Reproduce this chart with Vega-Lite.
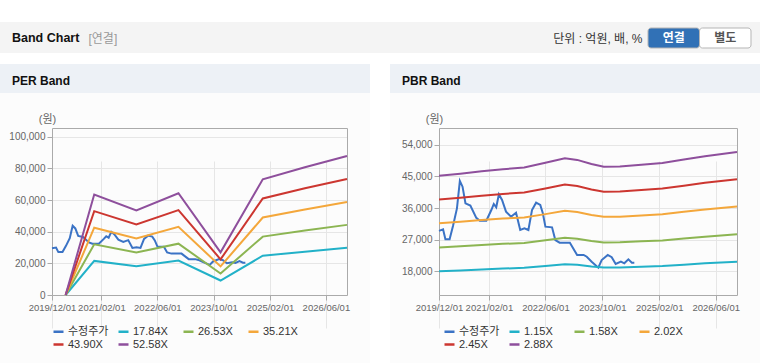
{
  "$schema": "https://vega.github.io/schema/vega-lite/v6.json",
  "autosize": {"type": "pad"},
  "padding": {"top": 22, "left": 0, "right": 0, "bottom": 1},
  "background": "#ffffff",
  "config": {
    "font": "Liberation Sans, Noto Sans CJK KR, sans-serif",
    "view": {"stroke": null},
    "axis": {"labelFont": "Liberation Sans, Noto Sans CJK KR, sans-serif", "titleFont": "Liberation Sans, Noto Sans CJK KR, sans-serif"},
    "legend": {"labelFont": "Liberation Sans, Noto Sans CJK KR, sans-serif"},
    "title": {"font": "Liberation Sans, Noto Sans CJK KR, sans-serif"}
  },
  "datasets": {
    "price": [
      {"d": "2019/12/01", "s": "수정주가", "v": 29500},
      {"d": "2020/01/05", "s": "수정주가", "v": 29950},
      {"d": "2020/01/25", "s": "수정주가", "v": 27100},
      {"d": "2020/03/01", "s": "수정주가", "v": 27100},
      {"d": "2020/03/30", "s": "수정주가", "v": 30900},
      {"d": "2020/05/03", "s": "수정주가", "v": 35900},
      {"d": "2020/05/28", "s": "수정주가", "v": 43700},
      {"d": "2020/06/20", "s": "수정주가", "v": 42060},
      {"d": "2020/07/15", "s": "수정주가", "v": 37340},
      {"d": "2020/08/26", "s": "수정주가", "v": 36700},
      {"d": "2020/10/16", "s": "수정주가", "v": 33200},
      {"d": "2020/11/15", "s": "수정주가", "v": 32400},
      {"d": "2021/01/10", "s": "수정주가", "v": 32400},
      {"d": "2021/02/22", "s": "수정주가", "v": 35430},
      {"d": "2021/03/15", "s": "수정주가", "v": 37140},
      {"d": "2021/04/05", "s": "수정주가", "v": 36200},
      {"d": "2021/04/28", "s": "수정주가", "v": 39900},
      {"d": "2021/05/25", "s": "수정주가", "v": 38280},
      {"d": "2021/06/28", "s": "수정주가", "v": 34950},
      {"d": "2021/08/10", "s": "수정주가", "v": 33530},
      {"d": "2021/09/22", "s": "수정주가", "v": 34670},
      {"d": "2021/10/28", "s": "수정주가", "v": 29750},
      {"d": "2021/12/03", "s": "수정주가", "v": 30230},
      {"d": "2022/01/06", "s": "수정주가", "v": 29750},
      {"d": "2022/02/06", "s": "수정주가", "v": 35430},
      {"d": "2022/03/13", "s": "수정주가", "v": 37520},
      {"d": "2022/04/18", "s": "수정주가", "v": 36860},
      {"d": "2022/05/10", "s": "수정주가", "v": 34500},
      {"d": "2022/06/01", "s": "수정주가", "v": 30700},
      {"d": "2022/07/28", "s": "수정주가", "v": 30510},
      {"d": "2022/08/25", "s": "수정주가", "v": 26900},
      {"d": "2022/10/01", "s": "수정주가", "v": 26140},
      {"d": "2022/12/28", "s": "수정주가", "v": 26140},
      {"d": "2023/02/28", "s": "수정주가", "v": 22650},
      {"d": "2023/04/25", "s": "수정주가", "v": 22650},
      {"d": "2023/05/22", "s": "수정주가", "v": 22150},
      {"d": "2023/07/03", "s": "수정주가", "v": 20730},
      {"d": "2023/08/29", "s": "수정주가", "v": 19030},
      {"d": "2023/09/27", "s": "수정주가", "v": 21200},
      {"d": "2023/11/18", "s": "수정주가", "v": 22650},
      {"d": "2023/12/22", "s": "수정주가", "v": 22000},
      {"d": "2024/01/25", "s": "수정주가", "v": 20070},
      {"d": "2024/03/10", "s": "수정주가", "v": 20730},
      {"d": "2024/04/08", "s": "수정주가", "v": 20270},
      {"d": "2024/05/13", "s": "수정주가", "v": 21400},
      {"d": "2024/06/12", "s": "수정주가", "v": 20450},
      {"d": "2024/07/03", "s": "수정주가", "v": 20450}
    ],
    "per": [
      {"d": "2020/03/28", "s": "17.84X", "v": 0}, {"d": "2020/03/28", "s": "26.53X", "v": 0}, {"d": "2020/03/28", "s": "35.21X", "v": 0}, {"d": "2020/03/28", "s": "43.90X", "v": 0}, {"d": "2020/03/28", "s": "52.58X", "v": 0},
      {"d": "2020/12/01", "s": "17.84X", "v": 21533}, {"d": "2020/12/01", "s": "26.53X", "v": 32022}, {"d": "2020/12/01", "s": "35.21X", "v": 42498}, {"d": "2020/12/01", "s": "43.90X", "v": 52987}, {"d": "2020/12/01", "s": "52.58X", "v": 63464},
      {"d": "2021/12/01", "s": "17.84X", "v": 18108}, {"d": "2021/12/01", "s": "26.53X", "v": 26928}, {"d": "2021/12/01", "s": "35.21X", "v": 35738}, {"d": "2021/12/01", "s": "43.90X", "v": 44559}, {"d": "2021/12/01", "s": "52.58X", "v": 53369},
      {"d": "2022/12/01", "s": "17.84X", "v": 21800}, {"d": "2022/12/01", "s": "26.53X", "v": 32420}, {"d": "2022/12/01", "s": "35.21X", "v": 43027}, {"d": "2022/12/01", "s": "43.90X", "v": 53646}, {"d": "2022/12/01", "s": "52.58X", "v": 64253},
      {"d": "2023/12/01", "s": "17.84X", "v": 9152}, {"d": "2023/12/01", "s": "26.53X", "v": 13610}, {"d": "2023/12/01", "s": "35.21X", "v": 18063}, {"d": "2023/12/01", "s": "43.90X", "v": 22521}, {"d": "2023/12/01", "s": "52.58X", "v": 26974},
      {"d": "2024/12/01", "s": "17.84X", "v": 24798}, {"d": "2024/12/01", "s": "26.53X", "v": 36877}, {"d": "2024/12/01", "s": "35.21X", "v": 48942}, {"d": "2024/12/01", "s": "43.90X", "v": 61021}, {"d": "2024/12/01", "s": "52.58X", "v": 73086},
      {"d": "2025/12/01", "s": "17.84X", "v": 27384}, {"d": "2025/12/01", "s": "26.53X", "v": 40724}, {"d": "2025/12/01", "s": "35.21X", "v": 54047}, {"d": "2025/12/01", "s": "43.90X", "v": 67387}, {"d": "2025/12/01", "s": "52.58X", "v": 80710},
      {"d": "2026/12/01", "s": "17.84X", "v": 29793}, {"d": "2026/12/01", "s": "26.53X", "v": 44305}, {"d": "2026/12/01", "s": "35.21X", "v": 58801}, {"d": "2026/12/01", "s": "43.90X", "v": 73313}, {"d": "2026/12/01", "s": "52.58X", "v": 87809}
    ],
    "pbr": [
      {"d": "2019/12/01", "s": "1.15X", "v": 18032}, {"d": "2019/12/01", "s": "1.58X", "v": 24774}, {"d": "2019/12/01", "s": "2.02X", "v": 31674}, {"d": "2019/12/01", "s": "2.45X", "v": 38416}, {"d": "2019/12/01", "s": "2.88X", "v": 45158},
      {"d": "2020/06/01", "s": "1.15X", "v": 18262}, {"d": "2020/06/01", "s": "1.58X", "v": 25090}, {"d": "2020/06/01", "s": "2.02X", "v": 32078}, {"d": "2020/06/01", "s": "2.45X", "v": 38906}, {"d": "2020/06/01", "s": "2.88X", "v": 45734},
      {"d": "2020/12/01", "s": "1.15X", "v": 18538}, {"d": "2020/12/01", "s": "1.58X", "v": 25470}, {"d": "2020/12/01", "s": "2.02X", "v": 32562}, {"d": "2020/12/01", "s": "2.45X", "v": 39494}, {"d": "2020/12/01", "s": "2.88X", "v": 46426},
      {"d": "2021/06/01", "s": "1.15X", "v": 18780}, {"d": "2021/06/01", "s": "1.58X", "v": 25801}, {"d": "2021/06/01", "s": "2.02X", "v": 32987}, {"d": "2021/06/01", "s": "2.45X", "v": 40009}, {"d": "2021/06/01", "s": "2.88X", "v": 47030},
      {"d": "2021/12/01", "s": "1.15X", "v": 18975}, {"d": "2021/12/01", "s": "1.58X", "v": 26070}, {"d": "2021/12/01", "s": "2.02X", "v": 33330}, {"d": "2021/12/01", "s": "2.45X", "v": 40425}, {"d": "2021/12/01", "s": "2.88X", "v": 47520},
      {"d": "2022/06/01", "s": "1.15X", "v": 19504}, {"d": "2022/06/01", "s": "1.58X", "v": 26797}, {"d": "2022/06/01", "s": "2.02X", "v": 34259}, {"d": "2022/06/01", "s": "2.45X", "v": 41552}, {"d": "2022/06/01", "s": "2.88X", "v": 48845},
      {"d": "2022/11/15", "s": "1.15X", "v": 20033}, {"d": "2022/11/15", "s": "1.58X", "v": 27524}, {"d": "2022/11/15", "s": "2.02X", "v": 35188}, {"d": "2022/11/15", "s": "2.45X", "v": 42679}, {"d": "2022/11/15", "s": "2.88X", "v": 50170},
      {"d": "2023/03/01", "s": "1.15X", "v": 19838}, {"d": "2023/03/01", "s": "1.58X", "v": 27255}, {"d": "2023/03/01", "s": "2.02X", "v": 34845}, {"d": "2023/03/01", "s": "2.45X", "v": 42263}, {"d": "2023/03/01", "s": "2.88X", "v": 49680},
      {"d": "2023/07/01", "s": "1.15X", "v": 19378}, {"d": "2023/07/01", "s": "1.58X", "v": 26623}, {"d": "2023/07/01", "s": "2.02X", "v": 34037}, {"d": "2023/07/01", "s": "2.45X", "v": 41283}, {"d": "2023/07/01", "s": "2.88X", "v": 48528},
      {"d": "2023/10/15", "s": "1.15X", "v": 19067}, {"d": "2023/10/15", "s": "1.58X", "v": 26196}, {"d": "2023/10/15", "s": "2.02X", "v": 33492}, {"d": "2023/10/15", "s": "2.45X", "v": 40621}, {"d": "2023/10/15", "s": "2.88X", "v": 47750},
      {"d": "2024/03/01", "s": "1.15X", "v": 19090}, {"d": "2024/03/01", "s": "1.58X", "v": 26228}, {"d": "2024/03/01", "s": "2.02X", "v": 33532}, {"d": "2024/03/01", "s": "2.45X", "v": 40670}, {"d": "2024/03/01", "s": "2.88X", "v": 47808},
      {"d": "2024/09/01", "s": "1.15X", "v": 19297}, {"d": "2024/09/01", "s": "1.58X", "v": 26512}, {"d": "2024/09/01", "s": "2.02X", "v": 33896}, {"d": "2024/09/01", "s": "2.45X", "v": 41111}, {"d": "2024/09/01", "s": "2.88X", "v": 48326},
      {"d": "2025/03/01", "s": "1.15X", "v": 19493}, {"d": "2025/03/01", "s": "1.58X", "v": 26781}, {"d": "2025/03/01", "s": "2.02X", "v": 34239}, {"d": "2025/03/01", "s": "2.45X", "v": 41528}, {"d": "2025/03/01", "s": "2.88X", "v": 48816},
      {"d": "2025/09/01", "s": "1.15X", "v": 19872}, {"d": "2025/09/01", "s": "1.58X", "v": 27302}, {"d": "2025/09/01", "s": "2.02X", "v": 34906}, {"d": "2025/09/01", "s": "2.45X", "v": 42336}, {"d": "2025/09/01", "s": "2.88X", "v": 49766},
      {"d": "2026/03/01", "s": "1.15X", "v": 20263}, {"d": "2026/03/01", "s": "1.58X", "v": 27840}, {"d": "2026/03/01", "s": "2.02X", "v": 35592}, {"d": "2026/03/01", "s": "2.45X", "v": 43169}, {"d": "2026/03/01", "s": "2.88X", "v": 50746},
      {"d": "2026/12/01", "s": "1.15X", "v": 20746}, {"d": "2026/12/01", "s": "1.58X", "v": 28503}, {"d": "2026/12/01", "s": "2.02X", "v": 36441}, {"d": "2026/12/01", "s": "2.45X", "v": 44198}, {"d": "2026/12/01", "s": "2.88X", "v": 51955}
    ]
  },
  "spacing": 11,
  "bounds": "flush",
  "resolve": {"scale": {"x": "independent", "y": "independent", "color": "independent", "fill": "independent"}, "legend": {"color": "independent", "fill": "independent"}},
  "vconcat": [
    {
      "width": 760,
      "height": 31,
      "view": {"fill": "#f4f4f4", "stroke": null},
      "title": {"text": "Band Chart", "anchor": "start", "frame": "group", "orient": "top", "offset": -28.5, "dx": 12, "baseline": "middle", "fontSize": 12.5, "fontWeight": "bold", "color": "#111111"},
      "data": {"values": [{"label": "연결", "sel": "Y"}, {"label": "별도", "sel": "N"}]},
      "encoding": {
        "x": {"field": "label", "type": "nominal", "sort": null,
          "scale": {"range": [648, 751], "paddingInner": 0, "paddingOuter": 0},
          "axis": {"orient": "top", "domain": false, "ticks": false, "labels": false, "grid": false, "minExtent": 0, "maxExtent": 0,
            "title": "단위 : 억원, 배, %", "titleX": 642, "titleY": 16, "titleAlign": "right", "titleBaseline": "middle", "titleFontSize": 12, "titleFontWeight": "normal", "titleColor": "#333333"}},
        "y": {"datum": "btn", "type": "nominal",
          "scale": {"range": [6, 26], "paddingInner": 0, "paddingOuter": 0},
          "axis": {"domain": false, "ticks": false, "labels": false, "grid": false, "minExtent": 0, "maxExtent": 0,
            "title": "[연결]", "titleX": 88, "titleY": 16, "titleAngle": 0, "titleAlign": "left", "titleBaseline": "middle", "titleFontSize": 12, "titleFontWeight": "normal", "titleColor": "#999999"}}
      },
      "layer": [
        {"mark": {"type": "bar", "cornerRadius": 3, "stroke": "#b5b5b5", "strokeWidth": 1},
         "encoding": {"fill": {"field": "sel", "type": "nominal", "scale": {"domain": ["Y", "N"], "range": ["#3171b6", "#ffffff"]}, "legend": null}}},
        {"mark": {"type": "text", "fontWeight": "bold", "fontSize": 12},
         "encoding": {"text": {"field": "label"}, "color": {"field": "sel", "type": "nominal", "scale": {"domain": ["Y", "N"], "range": ["#ffffff", "#555555"]}, "legend": null}}}
      ]
    },
    {
      "spacing": 20,
      "resolve": {"scale": {"x": "independent", "y": "independent", "color": "independent"}, "legend": {"color": "independent"}},
      "hconcat": [
        {
          "spacing": 0,
          "bounds": "flush",
          "vconcat": [
            {
              "width": 370, "height": 29,
              "view": {"fill": "#edf1f6", "stroke": null},
              "title": {"text": "PER Band", "anchor": "start", "frame": "group", "orient": "top", "offset": -28.5, "dx": 12, "baseline": "middle", "fontSize": 12, "fontWeight": "bold", "color": "#111111"},
              "data": {"values": []},
              "mark": {"type": "rule"},
              "encoding": {}
            },
            {
              "width": 370, "height": 270,
              "view": {"fill": "#fcfcfc", "stroke": null},
              "resolve": {"axis": {"x": "independent", "y": "independent"}},
              "layer": [
                {
                  "data": {"name": "price"},
                  "mark": {"type": "line", "strokeWidth": 2},
                  "encoding": {
                    "x": {"field": "d", "type": "temporal",
                      "scale": {"domain": [{"year": 2019, "month": 12, "date": 1}, {"year": 2026, "month": 12, "date": 1}], "range": [52, 347]},
                      "axis": {"orient": "bottom", "offset": -68, "title": null, "format": "%Y/%m/%d", "labelFlush": false, "labelOverlap": false,
                        "values": [{"year": 2019, "month": 12, "date": 1}, {"year": 2021, "month": 2, "date": 1}, {"year": 2022, "month": 6, "date": 1}, {"year": 2023, "month": 10, "date": 1}, {"year": 2025, "month": 2, "date": 1}, {"year": 2026, "month": 6, "date": 1}],
                        "labelFontSize": 9.5, "labelColor": "#666666", "labelPadding": 2, "tickSize": 5, "tickColor": "#aaaaaa", "domainColor": "#aaaaaa", "grid": true, "gridColor": "#e6e6e6"}},
                    "y": {"field": "v", "type": "quantitative",
                      "scale": {"domain": [0, 105500], "range": [202, 35], "nice": false, "zero": false},
                      "axis": {"orient": "left", "offset": -52, "values": [0, 20000, 40000, 60000, 80000, 100000], "format": ",d",
                        "labelFontSize": 10, "labelColor": "#666666", "labelPadding": 2, "tickSize": 5, "tickColor": "#aaaaaa", "domainColor": "#aaaaaa", "grid": true, "gridColor": "#e6e6e6",
                        "title": "(원)", "titleX": -5, "titleY": 26, "titleAngle": 0, "titleAlign": "center", "titleBaseline": "middle", "titleFontSize": 11, "titleFontWeight": "normal", "titleColor": "#666666"}},
                    "color": {"field": "s", "type": "nominal",
                      "scale": {"domain": ["수정주가", "17.84X", "26.53X", "35.21X", "43.90X", "52.58X"], "range": ["#3b73c5", "#22b1c8", "#8cb552", "#f4a73b", "#cc3630", "#8e4f9c"]},
                      "legend": {"orient": "none", "legendX": 52, "legendY": 261, "direction": "horizontal", "columns": 4, "gridAlign": "all", "columnPadding": 4, "rowPadding": 1, "title": null,
                        "symbolType": "stroke", "symbolStrokeWidth": 2.5, "symbolSize": 100, "labelFontSize": 11, "labelColor": "#333333", "labelOffset": 3}}
                  }
                },
                {
                  "data": {"name": "per"},
                  "mark": {"type": "line", "strokeWidth": 2},
                  "encoding": {
                    "x": {"field": "d", "type": "temporal",
                      "axis": {"orient": "top", "offset": -35, "title": null, "labels": false, "ticks": false, "grid": false, "domainColor": "#aaaaaa"}},
                    "y": {"field": "v", "type": "quantitative",
                      "axis": {"orient": "right", "offset": -23, "title": null, "labels": false, "ticks": false, "grid": false, "domainColor": "#aaaaaa"}},
                    "color": {"field": "s", "type": "nominal"}
                  }
                }
              ]
            }
          ]
        },
        {
          "spacing": 0,
          "bounds": "flush",
          "vconcat": [
            {
              "width": 370, "height": 29,
              "view": {"fill": "#edf1f6", "stroke": null},
              "title": {"text": "PBR Band", "anchor": "start", "frame": "group", "orient": "top", "offset": -28.5, "dx": 12, "baseline": "middle", "fontSize": 12, "fontWeight": "bold", "color": "#111111"},
              "data": {"values": []},
              "mark": {"type": "rule"},
              "encoding": {}
            },
            {
              "width": 370, "height": 270,
              "view": {"fill": "#fcfcfc", "stroke": null},
              "resolve": {"axis": {"x": "independent", "y": "independent"}},
              "layer": [
                {
                  "data": {"name": "price"},
                  "mark": {"type": "line", "strokeWidth": 2},
                  "encoding": {
                    "x": {"field": "d", "type": "temporal",
                      "scale": {"domain": [{"year": 2019, "month": 12, "date": 1}, {"year": 2026, "month": 12, "date": 1}], "range": [49, 347]},
                      "axis": {"orient": "bottom", "offset": -68, "title": null, "format": "%Y/%m/%d", "labelFlush": false, "labelOverlap": false,
                        "values": [{"year": 2019, "month": 12, "date": 1}, {"year": 2021, "month": 2, "date": 1}, {"year": 2022, "month": 6, "date": 1}, {"year": 2023, "month": 10, "date": 1}, {"year": 2025, "month": 2, "date": 1}, {"year": 2026, "month": 6, "date": 1}],
                        "labelFontSize": 9.5, "labelColor": "#666666", "labelPadding": 2, "tickSize": 5, "tickColor": "#aaaaaa", "domainColor": "#aaaaaa", "grid": true, "gridColor": "#e6e6e6"}},
                    "y": {"field": "v", "type": "quantitative",
                      "scale": {"domain": [11260, 58750], "range": [202, 35], "nice": false, "zero": false},
                      "axis": {"orient": "left", "offset": -49, "values": [18000, 27000, 36000, 45000, 54000], "format": ",d",
                        "labelFontSize": 10, "labelColor": "#666666", "labelPadding": 2, "tickSize": 5, "tickColor": "#aaaaaa", "domainColor": "#aaaaaa", "grid": true, "gridColor": "#e6e6e6",
                        "title": "(원)", "titleX": -5, "titleY": 26, "titleAngle": 0, "titleAlign": "center", "titleBaseline": "middle", "titleFontSize": 11, "titleFontWeight": "normal", "titleColor": "#666666"}},
                    "color": {"field": "s", "type": "nominal",
                      "scale": {"domain": ["수정주가", "1.15X", "1.58X", "2.02X", "2.45X", "2.88X"], "range": ["#3b73c5", "#22b1c8", "#8cb552", "#f4a73b", "#cc3630", "#8e4f9c"]},
                      "legend": {"orient": "none", "legendX": 53, "legendY": 261, "direction": "horizontal", "columns": 4, "gridAlign": "all", "columnPadding": 4, "rowPadding": 1, "title": null,
                        "symbolType": "stroke", "symbolStrokeWidth": 2.5, "symbolSize": 100, "labelFontSize": 11, "labelColor": "#333333", "labelOffset": 3}}
                  }
                },
                {
                  "data": {"name": "pbr"},
                  "mark": {"type": "line", "strokeWidth": 2},
                  "encoding": {
                    "x": {"field": "d", "type": "temporal",
                      "axis": {"orient": "top", "offset": -35, "title": null, "labels": false, "ticks": false, "grid": false, "domainColor": "#aaaaaa"}},
                    "y": {"field": "v", "type": "quantitative",
                      "axis": {"orient": "right", "offset": -23, "title": null, "labels": false, "ticks": false, "grid": false, "domainColor": "#aaaaaa"}},
                    "color": {"field": "s", "type": "nominal"}
                  }
                }
              ]
            }
          ]
        }
      ]
    }
  ]
}
